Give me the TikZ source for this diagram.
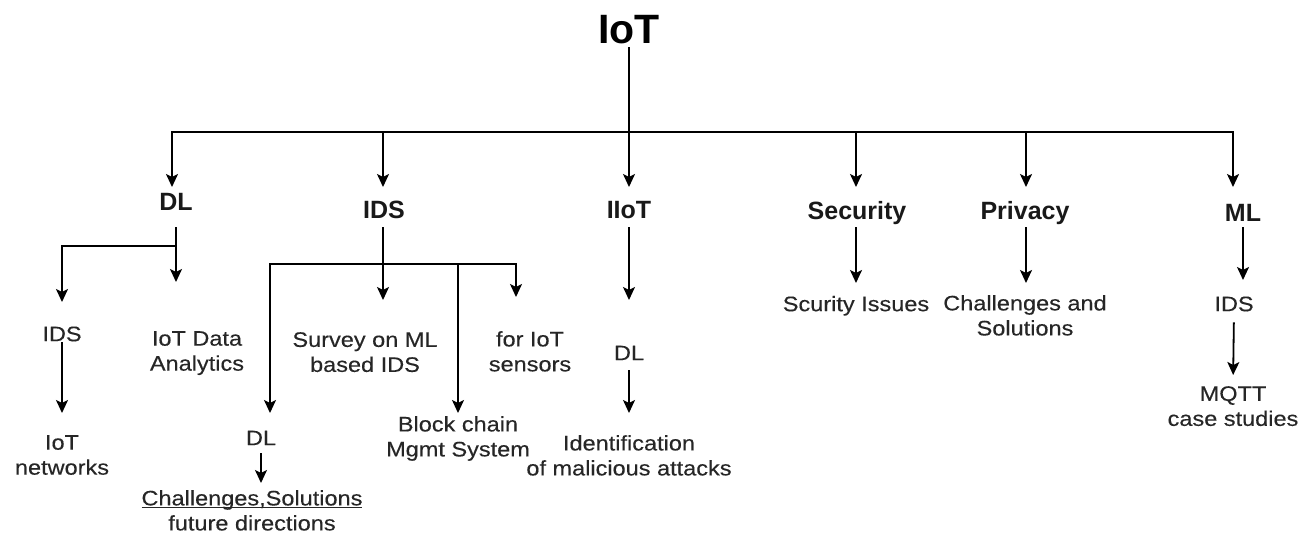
\documentclass[tikz,border=0pt]{standalone}
\usepackage{fontspec}
\setmainfont{Liberation Sans}
\newfontfamily\regf[FakeStretch=1.12,FakeBold=0.3]{Liberation Sans}
\usetikzlibrary{arrows.meta}
\newcommand{\myul}[1]{\underline{\raisebox{0pt}[\height][0pt]{#1}}}
\tikzset{
  lab/.style={font=\regf\fontsize{21}{25}\selectfont, align=center, anchor=north, inner sep=0pt, text=black!85},
  one/.style={font=\regf\fontsize{21}{25}\selectfont, anchor=north, inner sep=0pt, text height=15pt, text depth=0pt, text=black!85},
  head/.style={font=\bfseries\fontsize{25}{30}\selectfont, anchor=north, inner sep=0pt, text height=18pt, text depth=0pt, text=black!90},
  ln/.style={line width=1.8pt},
  arr/.style={line width=1.8pt, -{Stealth[length=13pt,width=12pt,inset=3pt]}}
}
\begin{document}
\begin{tikzpicture}[x=1pt,y=-1pt]
\useasboundingbox (0,0) rectangle (1305,533);
% root
\node[font=\bfseries\fontsize{41}{45}\selectfont, anchor=north, inner sep=0pt, text height=30pt, text depth=0pt] (IoT) at (629,13) {IoT};
\coordinate (bus) at (629,132);
% level 1
\node[head] (DL1) at (176,192) {DL};
\node[head] (IDS1) at (384,200) {IDS};
\node[head] (IIoT) at (629,200) {IIoT};
\node[head] (Sec) at (857,201) {Security};
\node[head] (Priv) at (1025,201) {Privacy};
\node[head] (ML) at (1243,203) {ML};
% level 2+
\node[one] (IDS2) at (62,326) {IDS};
\node[lab] (IoTnet) at (62,435) {IoT\\networks};
\node[lab] (IDA) at (197,331) {IoT Data\\Analytics};
\node[lab] (Surv) at (365,332) {Survey on ML\\based IDS};
\node[lab] (Sens) at (530,331) {for IoT\\sensors};
\node[one] (DL2) at (261,430) {DL};
\node[lab] (Block) at (458,416) {Block chain\\Mgmt System};
\node[lab] (CSF) at (252,490) {\myul{Challenges,Solutions}\\future directions};
\node[one] (DL3) at (629,345) {DL};
\node[lab] (Ident) at (629,435) {Identification\\of malicious attacks};
\node[one] (SI) at (856,296) {Scurity Issues};
\node[lab] (CS) at (1025,295) {Challenges and\\Solutions};
\node[one] (IDS3) at (1234,296) {IDS};
\node[lab] (MQTT) at (1233,386) {MQTT\\case studies};
% root to bus
\draw[ln, shorten <=4pt] (IoT.south) -- (bus);
\draw[arr, shorten >=5pt] (bus) -| ([xshift=-4pt]DL1.north);
\draw[arr, shorten >=13pt] (bus) -| ([xshift=-1pt]IDS1.north);
\draw[arr, shorten >=13pt] (bus) -- (IIoT.north);
\draw[arr, shorten >=14pt] (bus) -| ([xshift=-1pt]Sec.north);
\draw[arr, shorten >=14pt] (bus) -| ([xshift=1pt]Priv.north);
\draw[arr, shorten >=16pt] (bus) -| ([xshift=-10pt]ML.north);
% DL branch
\coordinate (dlj) at (176,246);
\draw[arr, shorten <=17pt, shorten >=49pt] (DL1.south) -- (DL1.south |- IDA.north);
\draw[arr, shorten >=24pt] (dlj) -| (IDS2.north);
\draw[arr, shorten <=1pt, shorten >=22pt] (IDS2.south) -- (IoTnet.north);
% IDS branch
\coordinate (ij) at (383,264);
\draw[arr, shorten <=9pt, shorten >=32pt] ([xshift=-1pt]IDS1.south) -- ([xshift=-1pt]IDS1.south |- Surv.north);
\draw[arr, shorten >=17pt] (ij) -| ([xshift=9pt]DL2.north);
\draw[arr, shorten >=34pt] (ij) -| ([xshift=-14pt]Sens.north);
\draw[arr, shorten >=3pt] (Block.north |- ij) -- (Block.north);
\draw[arr, shorten <=8pt, shorten >=7pt] (DL2.south) -- (DL2.south |- CSF.north);
% IIoT branch
\draw[arr, shorten <=9pt, shorten >=45pt] (IIoT.south) -- (DL3.north);
\draw[arr, shorten <=10pt, shorten >=22pt] (DL3.south) -- (Ident.north);
% Security, Privacy, ML
\draw[arr, shorten <=8pt, shorten >=13pt] ([xshift=-1pt]Sec.south) -- ([xshift=-1pt]Sec.south |- SI.north);
\draw[arr, shorten <=8pt, shorten >=12pt] ([xshift=1pt]Priv.south) -- ([xshift=1pt]Priv.south |- CS.north);
\draw[arr, shorten <=6pt, shorten >=16pt] (ML.south) -- (ML.south |- IDS3.north);
\draw[arr, shorten <=11pt, shorten >=11pt] (IDS3.south) -- (MQTT.north);
\end{tikzpicture}
\end{document}
